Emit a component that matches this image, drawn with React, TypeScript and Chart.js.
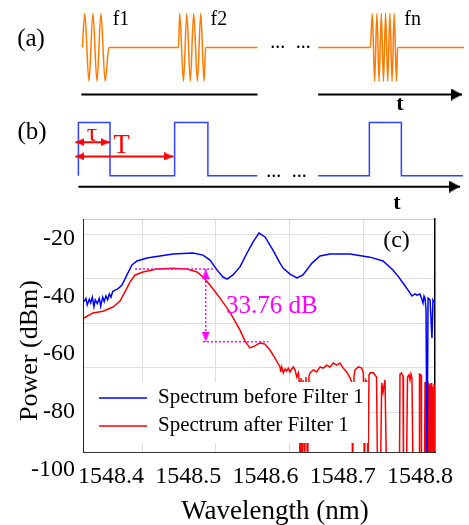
import React, { useEffect, useRef } from 'react';
import { Chart, registerables } from 'chart.js';

Chart.register(...registerables);

const SERIF = '"Liberation Serif", "DejaVu Serif", serif';
const ORANGE = '#ff7a00';
const PULSE_BLUE = '#3040ff';
const RED = '#ff0000';
const BLUE = '#0000ff';
const MAGENTA = '#ff00ff';
const GRID = '#dedede';

// ---------- panel (a): RF bursts (time, amplitude) ----------
const WAVE_T = [79, 81.5, 85.8, 89.8, 94, 98, 102.3, 106.3,
  177.3, 178.5, 182.3, 185.8, 189.3, 192.8, 196.6, 200, 203.4, 205, 258, 289,
  320, 373.3, 375.3, 377.7, 380, 382.2, 384.5, 386.7, 388.9, 391.1, 393.3, 395.5, 397.7, 400, 401.2, 469];
const WAVE_A = [0, 1, -1, 1, -1, 1, -1, 0,
  0, 1, -1, 1, -1, 1, -1, 1, -1, 0, 0, null,
  0, 0, 1, -1, 1, -1, 1, -1, 1, -1, 1, -1, 1, -1, 0, 0];
const AXIS_A_T = [78, 258, 289, 320, 467];
const AXIS_A_LEVEL = -1.394;

// ---------- panel (b): pulse train (time, level) ----------
const PULSE_T = [75, 75, 107.3, 107.3, 173.3, 173.3, 207.3, 207.3, 257.7, 289, 320, 372.3, 372.3, 405, 405, 468];
const PULSE_V = [0, 1, 1, 0, 0, 1, 1, 0, 0, null, 0, 0, 1, 1, 0, 0];
const AXIS_B_T = [75, 465];
const AXIS_B_LEVEL = -0.2036;
const TAU_T = [72, 107];
const TAU_LEVEL = 0.63;
const PERIOD_T = [72, 172];
const PERIOD_LEVEL = 0.3625;

// ---------- panel (c): spectra ----------
const BLUE_WL = [1548.3650, 1548.3676, 1548.3693, 1548.3719, 1548.3737, 1548.3758, 1548.3780, 1548.3797, 1548.3823, 1548.3849,
  1548.3867, 1548.3893, 1548.3913, 1548.3935, 1548.3957, 1548.3978, 1548.4000, 1548.4022, 1548.4052, 1548.4082,
  1548.4117, 1548.4142, 1548.4207, 1548.4272, 1548.4337, 1548.4466, 1548.4634, 1548.4803, 1548.5061, 1548.5191,
  1548.5282, 1548.5372, 1548.5450, 1548.5502, 1548.5579, 1548.5670, 1548.5761, 1548.5838, 1548.5916, 1548.5994,
  1548.6097, 1548.6188, 1548.6227, 1548.6317, 1548.6408, 1548.6485, 1548.6602, 1548.6706, 1548.6835, 1548.7094,
  1548.7353, 1548.7521, 1548.7650, 1548.7715, 1548.7780, 1548.7845, 1548.7896, 1548.7935, 1548.7961, 1548.8000,
  1548.8026, 1548.8039, 1548.8052, 1548.8065, 1548.8078, 1548.8091, 1548.8104, 1548.8130, 1548.8155, 1548.8168, 1548.8194];
const BLUE_DBM = [-42.8, -41.7, -43.9, -42.0, -43.2, -41.3, -44.5, -42.2, -43.4, -41.7,
  -44.3, -41.3, -42.8, -40.9, -42.2, -40.2, -41.3, -39.4, -38.9, -38.6,
  -37.8, -37.2, -33.8, -30.4, -29.1, -28.1, -27.4, -26.7, -26.4, -27.1,
  -28.8, -32.1, -34.5, -35.2, -33.8, -31.1, -26.4, -22.7, -19.7, -21.0,
  -25.4, -29.8, -31.5, -33.5, -34.8, -33.8, -29.8, -27.4, -26.7, -26.7,
  -27.8, -29.1, -32.1, -34.2, -36.5, -38.9, -40.9, -40.2, -40.6, -40.2,
  -42.2, -43.3, -40.9, -41.6, -45.6, -100, -41.6, -42.2, -55.1, -42.2, -43.3];

const RED_WL = [1548.3650, 1548.3767, 1548.3896, 1548.4026, 1548.4117, 1548.4181, 1548.4246, 1548.4311, 1548.4414, 1548.4595,
  1548.4803, 1548.4984, 1548.5113, 1548.5191, 1548.5282, 1548.5411, 1548.5540, 1548.5670, 1548.5735, 1548.5799,
  1548.5864, 1548.5929, 1548.5994, 1548.6058, 1548.6123, 1548.6188, 1548.6197, 1548.6210, 1548.6230, 1548.6252,
  1548.6274, 1548.6295, 1548.6317, 1548.6339, 1548.6360, 1548.6382, 1548.6404, 1548.6425, 1548.6438, 1548.6447,
  1548.6460, 1548.6473, 1548.6486, 1548.6505, 1548.6524, 1548.6544, 1548.6563, 1548.6576, 1548.6619, 1548.6663,
  1548.6706, 1548.6748, 1548.6792, 1548.6835, 1548.6878, 1548.6922, 1548.6964, 1548.7007, 1548.7051, 1548.7094,
  1548.7116, 1548.7127, 1548.7146, 1548.7159, 1548.7202, 1548.7246, 1548.7266, 1548.7282, 1548.7295, 1548.7310,
  1548.7327, 1548.7340, 1548.7353, 1548.7396, 1548.7418, 1548.7437, 1548.7450, 1548.7489, 1548.7504, 1548.7521,
  1548.7534, 1548.7547, 1548.7566, 1548.7734, 1548.7741, 1548.7760, 1548.7780, 1548.7786, 1548.7825, 1548.7838,
  1548.7857, 1548.7870, 1548.7883, 1548.7896, 1548.7909, 1548.7987, 1548.7993, 1548.8013, 1548.8019, 1548.8058,
  1548.8065, 1548.8071, 1548.8078, 1548.8084, 1548.8091, 1548.8097, 1548.8104, 1548.8110, 1548.8117, 1548.8123,
  1548.8130, 1548.8136, 1548.8143, 1548.8149, 1548.8155, 1548.8162, 1548.8168, 1548.8175, 1548.8181, 1548.8188, 1548.8194];
const RED_DBM = [-48.3, -46.6, -46.0, -44.6, -42.6, -39.5, -36.2, -33.8, -32.8, -31.8,
  -31.5, -31.8, -32.8, -34.5, -37.2, -41.6, -46.3, -52.4, -56.1, -58.4,
  -57.7, -56.7, -57.1, -59.1, -61.8, -64.8, -66.5, -64.8, -66.8, -65.5,
  -66.2, -65.2, -66.5, -65.5, -64.8, -65.8, -68.2, -66.8, -69.9, -100,
  -68.5, -100, -69.2, -100, -68.2, -100, -67.9, -66.8, -65.8, -66.5,
  -64.8, -65.2, -64.2, -64.8, -63.5, -64.2, -63.5, -65.2, -66.5, -68.5,
  -69.9, -100, -67.9, -65.8, -64.8, -65.2, -66.8, -100, -69.2, -69.9,
  -100, -67.5, -66.8, -66.8, -67.5, -68.2, -100, -100, -70.2, -73.3,
  -71.2, -69.2, -100, -100, -67.2, -66.8, -67.9, -100, -100, -68.2,
  -67.5, -69.2, -67.2, -68.5, -100, -100, -67.2, -67.5, -100, -100,
  -69.9, -100, -70.6, -100, -69.5, -100, -70.2, -100, -71.2, -100,
  -70.6, -100, -70.2, -100, -70.9, -100, -71.6, -100, -70.6, -100, -71.2];

// extinction annotation
const DROP_WL = 1548.5226;
const PLATEAU_DBM = -31.8;
const FLOOR_DBM = -56.3;
const PLATEAU_LINE_WL = [1548.4311, 1548.5355];
const FLOOR_LINE_WL = [1548.5191, 1548.6036];
const EXTINCTION_TEXT = '33.76 dB';
const EXTINCTION_TEXT_POS = { wl: 1548.5489, dbm: -44.3 };
const PANEL_C_POS = { wl: 1548.7696, dbm: -22.4 };

// axes
const WL_MIN = 1548.3638;
const WL_MAX = 1548.8194;
const WL_TICKS = [1548.4, 1548.5, 1548.6, 1548.7, 1548.8];
const GRID_WL = [1548.4410, 1548.5359, 1548.6317, 1548.7266];
const DBM_MIN = -93.47;
const DBM_MAX = -14.94;
const GRID_DBM = [-20, -35, -50, -65, -80];
const DBM_LABEL_MIN = -93.9;
const DBM_LABEL_MAX = -13.21;
const DBM_TICKS = [-20, -40, -60, -80, -100];

const SERIES_BEFORE = 'Spectrum before Filter 1';
const SERIES_AFTER = 'Spectrum after Filter 1';

function pts(xs: number[], ys: (number | null)[]) {
  return xs.map((x, i) => ({ x, y: ys[i] }));
}
function flat(xs: number[], level: number) {
  return xs.map((x) => ({ x, y: level }));
}

function makeArrow(color: string, len: number, hw: number) {
  const c = document.createElement('canvas');
  c.width = 2 * hw;
  c.height = 2 * len;
  const g = c.getContext('2d')!;
  g.fillStyle = color;
  g.beginPath();
  g.moveTo(hw, len);
  g.lineTo(2 * hw, 2 * len);
  g.lineTo(0, 2 * len);
  g.closePath();
  g.fill();
  return c;
}

function zeroPad(s: any) {
  s.paddingLeft = 0;
  s.paddingRight = 0;
  s.paddingTop = 0;
  s.paddingBottom = 0;
}

const topTextPlugin = {
  id: 'topTexts',
  afterDraw(chart: any) {
    const { ctx } = chart;
    const x = chart.scales.x;
    const ya = chart.scales.ya;
    const yb = chart.scales.yb;
    ctx.save();
    ctx.fillStyle = '#000';
    ctx.textAlign = 'center';
    ctx.textBaseline = 'middle';
    ctx.font = `25px ${SERIF}`;
    ctx.fillText('(a)', 31, 39);
    ctx.fillText('(b)', 32, 132);

    ctx.textAlign = 'left';
    ctx.textBaseline = 'alphabetic';
    ctx.font = `20px ${SERIF}`;
    ctx.fillText('f1', x.getPixelForValue(110), 25);
    ctx.fillText('f2', x.getPixelForValue(210), 25);
    ctx.fillText('fn', x.getPixelForValue(408), 25);
    ctx.fillText('...', x.getPixelForValue(271), ya.getPixelForValue(0) + 1);
    ctx.fillText('...', x.getPixelForValue(297), ya.getPixelForValue(0) + 1);
    ctx.fillText('...', x.getPixelForValue(267), yb.getPixelForValue(0) + 1);
    ctx.fillText('...', x.getPixelForValue(293), yb.getPixelForValue(0) + 1);

    ctx.textAlign = 'center';
    ctx.textBaseline = 'middle';
    ctx.font = `bold 22px ${SERIF}`;
    ctx.fillText('t', 400, 104);
    ctx.fillText('t', 397, 203);

    ctx.fillStyle = RED;
    ctx.font = `26px ${SERIF}`;
    ctx.fillText('τ', 92, 134);
    ctx.font = `27px ${SERIF}`;
    ctx.fillText('T', 121.5, 146);
    ctx.restore();
  },
};

const specTextPlugin = {
  id: 'specTexts',
  afterDatasetsDraw(chart: any) {
    const { ctx, chartArea: a } = chart;
    const items = chart.data.datasets.filter((d: any) => d.inLegend);
    ctx.save();
    ctx.fillStyle = '#fff';
    ctx.fillRect(a.left + 1, a.bottom - 70, 284, 61);
    ctx.font = `21px ${SERIF}`;
    ctx.textBaseline = 'middle';
    ctx.textAlign = 'left';
    items.forEach((d: any, i: number) => {
      const y = a.bottom - 54 + i * 28;
      ctx.strokeStyle = d.borderColor;
      ctx.lineWidth = 1.5;
      ctx.beginPath();
      ctx.moveTo(a.left + 16, y);
      ctx.lineTo(a.left + 64, y);
      ctx.stroke();
      ctx.fillStyle = '#000';
      ctx.fillText(d.label, a.left + 75, y - 1);
    });
    ctx.restore();
  },
  afterDraw(chart: any) {
    const { ctx, chartArea: a, scales } = chart;
    const x = scales.x;
    const y = scales.y;
    ctx.save();
    ctx.fillStyle = MAGENTA;
    ctx.font = `25px ${SERIF}`;
    ctx.textAlign = 'left';
    ctx.textBaseline = 'middle';
    ctx.fillText(EXTINCTION_TEXT, x.getPixelForValue(EXTINCTION_TEXT_POS.wl), y.getPixelForValue(EXTINCTION_TEXT_POS.dbm));

    ctx.fillStyle = '#000';
    ctx.textAlign = 'center';
    ctx.font = `24px ${SERIF}`;
    ctx.fillText('(c)', x.getPixelForValue(PANEL_C_POS.wl), y.getPixelForValue(PANEL_C_POS.dbm));

    ctx.font = `27px ${SERIF}`;
    ctx.fillText('Wavelength (nm)', (a.left + a.right) / 2 + 16, a.bottom + 60);
    ctx.font = `26px ${SERIF}`;
    ctx.translate(a.left - 53, (a.top + a.bottom) / 2 + 15);
    ctx.rotate(-Math.PI / 2);
    ctx.fillText('Power (dBm)', 0, 0);
    ctx.restore();
  },
};

export default function App() {
  const topRef = useRef<HTMLCanvasElement>(null);
  const specRef = useRef<HTMLCanvasElement>(null);

  useEffect(() => {
    Chart.defaults.font.family = SERIF;
    const charts: Chart[] = [];
    const blackArrow = makeArrow('#000', 11, 6);
    const redArrow = makeArrow(RED, 9, 4);
    const magArrow = makeArrow(MAGENTA, 10, 4);

    if (topRef.current) {
      charts.push(
        new Chart(topRef.current, {
          type: 'line',
          data: {
            datasets: [
              { label: 'tauArrowHeads', data: [{ x: TAU_T[0], y: TAU_LEVEL }, { x: TAU_T[1], y: TAU_LEVEL }, { x: PERIOD_T[0], y: PERIOD_LEVEL }, { x: PERIOD_T[1], y: PERIOD_LEVEL }], yAxisID: 'yb', showLine: false, pointStyle: redArrow as any, pointRadius: 3, pointRotation: [-90, 90, -90, 90] as any },
              { label: 'tau', data: flat(TAU_T, TAU_LEVEL), yAxisID: 'yb', borderColor: RED, borderWidth: 2, pointRadius: 0 },
              { label: 'period', data: flat(PERIOD_T, PERIOD_LEVEL), yAxisID: 'yb', borderColor: RED, borderWidth: 2, pointRadius: 0 },
              { label: 'axisArrows', data: [{ x: AXIS_A_T[AXIS_A_T.length - 1], y: AXIS_A_LEVEL }], yAxisID: 'ya', showLine: false, pointStyle: blackArrow as any, pointRadius: 3, pointRotation: 90 },
              { label: 'axisArrowB', data: [{ x: AXIS_B_T[1], y: AXIS_B_LEVEL }], yAxisID: 'yb', showLine: false, pointStyle: blackArrow as any, pointRadius: 3, pointRotation: 90 },
              { label: 'axisA', data: AXIS_A_T.map((t, i) => ({ x: t, y: i === 2 ? null : AXIS_A_LEVEL })), yAxisID: 'ya', borderColor: '#000', borderWidth: 2, pointRadius: 0 },
              { label: 'axisB', data: flat(AXIS_B_T, AXIS_B_LEVEL), yAxisID: 'yb', borderColor: '#000', borderWidth: 2, pointRadius: 0 },
              { label: 'wave', data: pts(WAVE_T, WAVE_A), yAxisID: 'ya', borderColor: ORANGE, borderWidth: 1.5, pointRadius: 0, tension: 0.4, cubicInterpolationMode: 'monotone' },
              { label: 'pulses', data: pts(PULSE_T, PULSE_V), yAxisID: 'yb', borderColor: PULSE_BLUE, borderWidth: 1.5, pointRadius: 0 },
            ],
          },
          options: {
            responsive: false,
            animation: false,
            devicePixelRatio: 1,
            events: [],
            layout: { padding: 0 },
            plugins: { legend: { display: false }, tooltip: { enabled: false } },
            scales: {
              x: { type: 'linear', display: false, min: 0, max: 469 },
              ya: { type: 'linear', axis: 'y', position: 'left', display: false, min: -4.662, max: 1.2535 },
              yb: { type: 'linear', axis: 'y', position: 'left', display: false, min: -0.548, max: 3.2018 },
            } as any,
          },
          plugins: [topTextPlugin],
        })
      );
    }

    if (specRef.current) {
      const tickFont = { family: SERIF, size: 24 };
      charts.push(
        new Chart(specRef.current, {
          type: 'line',
          data: {
            datasets: [
              { label: 'plateauLine', data: flat(PLATEAU_LINE_WL, PLATEAU_DBM), borderColor: MAGENTA, borderWidth: 1.5, borderDash: [2, 2], pointRadius: 0, xAxisID: 'x', yAxisID: 'y' },
              { label: 'floorLine', data: flat(FLOOR_LINE_WL, FLOOR_DBM), borderColor: MAGENTA, borderWidth: 1.5, borderDash: [2, 2], pointRadius: 0, xAxisID: 'x', yAxisID: 'y' },
              { label: 'dropLine', data: [{ x: DROP_WL, y: PLATEAU_DBM }, { x: DROP_WL, y: FLOOR_DBM }], borderColor: MAGENTA, borderWidth: 1.5, borderDash: [2, 2], pointRadius: 0, xAxisID: 'x', yAxisID: 'y' },
              { label: 'dropArrows', data: [{ x: DROP_WL, y: PLATEAU_DBM }, { x: DROP_WL, y: FLOOR_DBM }], showLine: false, pointStyle: magArrow as any, pointRadius: 3, pointRotation: [0, 180] as any, xAxisID: 'x', yAxisID: 'y' },
              { label: SERIES_BEFORE, inLegend: true, data: pts(BLUE_WL, BLUE_DBM), borderColor: BLUE, borderWidth: 1.5, pointRadius: 0, xAxisID: 'x', yAxisID: 'y' } as any,
              { label: SERIES_AFTER, inLegend: true, data: pts(RED_WL, RED_DBM), borderColor: RED, borderWidth: 1.5, pointRadius: 0, xAxisID: 'x', yAxisID: 'y' } as any,
            ],
          },
          options: {
            responsive: false,
            animation: false,
            devicePixelRatio: 1,
            events: [],
            layout: { padding: 0 },
            plugins: { legend: { display: false }, tooltip: { enabled: false } },
            scales: {
              x: {
                type: 'linear', position: 'bottom', weight: 1, min: WL_MIN, max: WL_MAX,
                grid: { display: false, drawTicks: false }, border: { display: false },
                ticks: { font: tickFont, color: '#000', padding: 10, maxRotation: 0, autoSkip: false, callback: (v: any) => Number(v).toFixed(1) },
                afterBuildTicks: (s: any) => { s.ticks = WL_TICKS.map((v) => ({ value: v })); },
                afterFit: (s: any) => { s.height = 73; zeroPad(s); },
              },
              xg: {
                type: 'linear', axis: 'x', position: 'bottom', weight: 0, min: WL_MIN, max: WL_MAX,
                grid: { color: GRID, drawTicks: false }, border: { display: true, color: '#333', width: 1 },
                ticks: { display: false },
                afterBuildTicks: (s: any) => { s.ticks = GRID_WL.map((v) => ({ value: v })); },
                afterFit: (s: any) => { s.height = 0; zeroPad(s); },
              },
              xt: {
                type: 'linear', axis: 'x', position: 'top', min: WL_MIN, max: WL_MAX,
                grid: { display: false, drawTicks: false }, border: { display: true, color: '#c8c8c8', width: 1 },
                ticks: { display: false },
                afterFit: (s: any) => { s.height = 9; zeroPad(s); },
              },
              y: {
                type: 'linear', position: 'left', weight: 0, min: DBM_MIN, max: DBM_MAX,
                grid: { color: GRID, drawTicks: false }, border: { display: true, color: '#222', width: 1 },
                ticks: { display: false },
                afterBuildTicks: (s: any) => { s.ticks = GRID_DBM.map((v) => ({ value: v })); },
                afterFit: (s: any) => { s.width = 0; zeroPad(s); },
              },
              yl: {
                type: 'linear', axis: 'y', position: 'left', weight: 1, min: DBM_LABEL_MIN, max: DBM_LABEL_MAX,
                grid: { display: false, drawTicks: false }, border: { display: false },
                ticks: { font: tickFont, color: '#000', padding: 8, autoSkip: false, callback: (v: any) => String(v) },
                afterBuildTicks: (s: any) => { s.ticks = DBM_TICKS.map((v) => ({ value: v })); },
                afterFit: (s: any) => { s.width = 83; zeroPad(s); },
              },
              yr: {
                type: 'linear', axis: 'y', position: 'right', min: 0, max: 1,
                grid: { display: false, drawTicks: false }, border: { display: true, color: '#000', width: 1.5 },
                ticks: { display: false },
                afterFit: (s: any) => { s.width = 34; zeroPad(s); },
              },
            } as any,
          },
          plugins: [specTextPlugin],
        })
      );
    }

    return () => {
      charts.forEach((c) => c.destroy());
    };
  }, []);

  return (
    <div style={{ position: 'absolute', left: 0, top: 0, width: 469, height: 525, background: '#fff', overflow: 'hidden' }}>
      <canvas ref={topRef} width={469} height={210} style={{ position: 'absolute', left: 0, top: 0, width: 469, height: 210 }} />
      <canvas ref={specRef} width={469} height={315} style={{ position: 'absolute', left: 0, top: 210, width: 469, height: 315 }} />
    </div>
  );
}
